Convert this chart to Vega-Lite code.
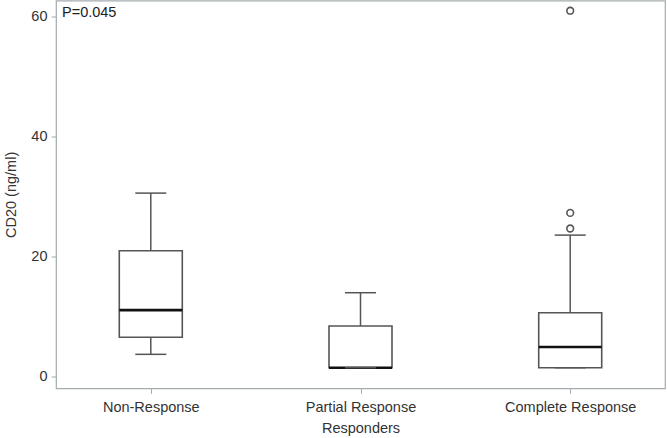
{
  "$schema": "https://vega.github.io/schema/vega-lite/v6.json",
  "autosize": {"type": "none"},
  "padding": {"left": 56, "top": 0.5, "right": 2, "bottom": 49.7},
  "width": 609,
  "height": 387.8,
  "background": "white",
  "config": {
    "font": "Liberation Sans",
    "view": {"stroke": "#A4ABAE", "strokeWidth": 1.2},
    "axis": {"grid": false, "domain": false, "labelFont": "Liberation Sans", "titleFont": "Liberation Sans", "labelColor": "#333333", "titleColor": "#333333", "titleFontWeight": "normal", "labelFontSize": 14.5, "titleFontSize": 14.5, "tickColor": "#A4ABAE", "tickSize": 5}
  },
  "title": {"text": "P=0.045", "anchor": "start", "frame": "group", "orient": "top", "offset": -20, "dx": 6, "fontSize": 14.5, "fontWeight": "normal", "color": "#222222", "font": "Liberation Sans"},
  "datasets": {
    "boxes": [
      {"group": "Non-Response", "lower": 3.73, "q1": 6.57, "median": 11.1, "q3": 21.0, "upper": 30.6},
      {"group": "Partial Response", "lower": 1.5, "q1": 1.5, "median": 1.5, "q3": 8.45, "upper": 14.0},
      {"group": "Complete Response", "lower": 1.5, "q1": 1.5, "median": 4.95, "q3": 10.67, "upper": 23.6}
    ],
    "outliers": [
      {"group": "Complete Response", "value": 24.7},
      {"group": "Complete Response", "value": 27.3},
      {"group": "Complete Response", "value": 61.0}
    ]
  },
  "encoding": {
    "x": {"field": "group", "type": "nominal", "sort": ["Non-Response", "Partial Response", "Complete Response"],
      "scale": {"type": "point", "padding": 0.452},
      "axis": {"title": "Responders", "labelAngle": 0, "labelPadding": 7, "titlePadding": 8}}
  },
  "layer": [
    {
      "data": {"name": "boxes"},
      "mark": {"type": "rule", "color": "#555555", "strokeWidth": 1.5},
      "encoding": {
        "y": {"field": "lower", "type": "quantitative", "scale": {"domain": [-1.93, 62.7], "nice": false, "zero": false},
          "axis": {"title": "CD20 (ng/ml)", "values": [0, 20, 40, 60], "labelPadding": 4, "titlePadding": 12}},
        "y2": {"field": "q1"}
      }
    },
    {
      "data": {"name": "boxes"},
      "mark": {"type": "rule", "color": "#555555", "strokeWidth": 1.5},
      "encoding": {"y": {"field": "q3", "type": "quantitative"}, "y2": {"field": "upper"}}
    },
    {
      "data": {"name": "boxes"},
      "mark": {"type": "bar", "size": 63, "fill": "white", "stroke": "#555555", "strokeWidth": 1.6},
      "encoding": {"y": {"field": "q1", "type": "quantitative"}, "y2": {"field": "q3"}}
    },
    {
      "data": {"name": "boxes"},
      "mark": {"type": "tick", "size": 63, "thickness": 2.6, "color": "#111111", "opacity": 1},
      "encoding": {"y": {"field": "median", "type": "quantitative"}}
    },
    {
      "data": {"name": "boxes"},
      "mark": {"type": "tick", "size": 31, "thickness": 1.5, "color": "#555555", "opacity": 1},
      "encoding": {"y": {"field": "lower", "type": "quantitative"}}
    },
    {
      "data": {"name": "boxes"},
      "mark": {"type": "tick", "size": 31, "thickness": 1.5, "color": "#555555", "opacity": 1},
      "encoding": {"y": {"field": "upper", "type": "quantitative"}}
    },
    {
      "data": {"name": "outliers"},
      "mark": {"type": "point", "shape": "circle", "size": 45, "filled": false, "stroke": "#555555", "strokeWidth": 1.6, "opacity": 1},
      "encoding": {"y": {"field": "value", "type": "quantitative"}}
    }
  ]
}
